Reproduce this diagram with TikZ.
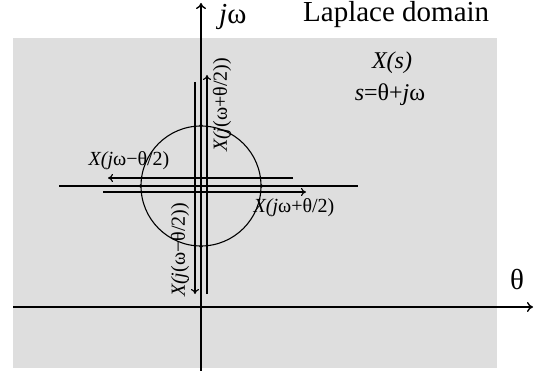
\documentclass[tikz,border=0pt]{standalone}
\usepackage{fontspec}
\setmainfont{Liberation Serif}
\usetikzlibrary{arrows.meta}
\begin{document}
\begin{tikzpicture}[x=1pt,y=-1pt,
  axis/.style={line width=1.4pt,-{To[length=6pt,width=10pt]}},
  arr/.style={line width=1.1pt,-{To[length=5pt,width=8pt]}},
  lbl/.style={inner sep=0pt,font=\fontsize{20}{20}\selectfont},
  mid/.style={inner sep=0pt,font=\fontsize{24}{24}\selectfont},
  big/.style={inner sep=0pt,font=\fontsize{29}{29}\selectfont},
  dotp/.style={circle,fill=black,inner sep=0pt,minimum size=3.5pt}]
\useasboundingbox (0,0) rectangle (535,371);
\fill[black!13] (13,38) rectangle (497,368);
% axes
\coordinate (vb) at (201,372);
\coordinate (vt) at (201,3);
\coordinate (hl) at (13,307);
\coordinate (hr) at (533,307);
\draw[axis] (vb) -- (vt);
\draw[axis] (hl) -- (hr);
% circle
\node[draw,circle,line width=1.1pt,minimum size=120pt,inner sep=0pt] (c) at (201,186) {};
% central horizontal line
\coordinate (ml) at (59,186);
\coordinate (mr) at (358,186);
\draw[line width=1.4pt] (ml) -- (mr);
% shifted horizontal arrows
\coordinate (ua) at (293,178);
\coordinate (ub) at (108,178);
\draw[arr] (ua) -- (ub);
\coordinate (la) at (103,192);
\coordinate (lb) at (306,192);
\draw[arr] (la) -- (lb);
% shifted vertical arrows
\coordinate (da) at (195,82);
\coordinate (db) at (195,294);
\draw[arr] (da) -- (db);
\coordinate (ra) at (207,294);
\coordinate (rb) at (207,75);
\draw[arr] (ra) -- (rb);
% dots
\node[dotp] (d0) at (c.center) {};
\node[dotp] (d1) at (c.west) {};
\node[dotp] (d2) at (c.east) {};
\node[dotp] (d3) at (c.north) {};
\node[dotp] (d4) at (c.south) {};
% labels
\node[big,anchor=west] (jw) at (219,17) {\textit{j}ω};
\node[big,anchor=west] (lap) at (303,15) {Laplace domain};
\node[mid] (xs) at (392,63) {\textit{X(s)}};
\node[mid] (sd) at (390,95) {\textit{s}=θ+\textit{j}ω};
\node[big] (th) at (517,280) {θ};
\node[lbl] (lm) at (129,161) {\textit{X(j}ω−θ/2)};
\node[lbl] (lp) at (294,208) {\textit{X(j}ω+θ/2)};
\node[lbl,rotate=90] (vp) at (222,105) {\textit{X(j}(ω+θ/2))};
\node[lbl,rotate=90] (vm) at (180,250) {\textit{X(j}(ω−θ/2))};
\end{tikzpicture}
\end{document}
